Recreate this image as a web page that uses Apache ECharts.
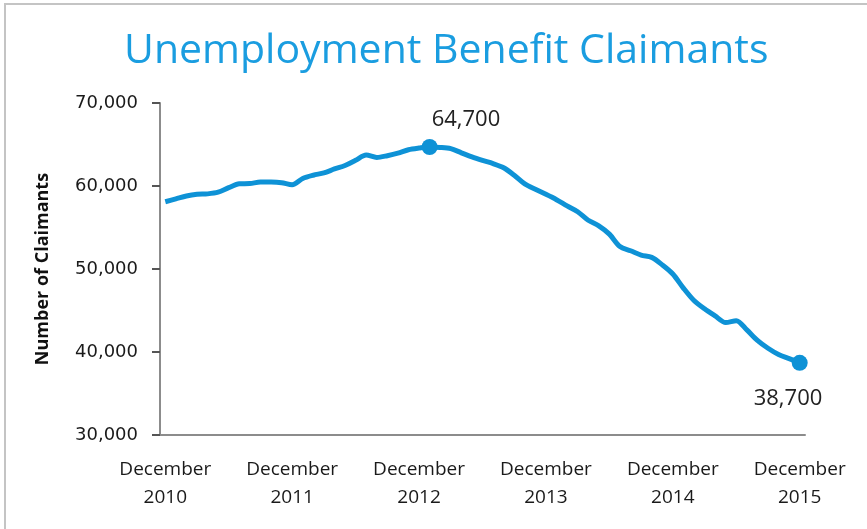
<!DOCTYPE html>
<html>
<head>
<meta charset="utf-8">
<title>Unemployment Benefit Claimants</title>
<script src="https://cdn.jsdelivr.net/npm/echarts@6/dist/echarts.min.js"></script>
<style>
  html, body { margin: 0; padding: 0; background: #fff; }
  #chart { width: 867px; height: 529px; }
</style>
</head>
<body>
<div id="chart"></div>
<script>
// months Dec 2010 .. Dec 2015
const monthNames = ['January', 'February', 'March', 'April', 'May', 'June', 'July',
  'August', 'September', 'October', 'November', 'December'];

// claimants
const claimants = [
  58100, 58450, 58800, 59000, 59050, 59250, 59800, 60270, 60300, 60470, 60470, 60400,
  60150, 60900, 61300, 61580, 62050, 62470, 63100, 63730, 63440, 63650, 63950, 64370,
  64570, 64700, 64650, 64500, 64000, 63500, 63080, 62700, 62200, 61300, 60250, 59600,
  59000, 58350, 57600, 56900, 55870, 55200, 54200, 52700, 52200, 51680, 51400, 50500,
  49400, 47700, 46200, 45200, 44350, 43550, 43780, 42660, 41400, 40450, 39700, 39200,
  38700
];

// points that carry a label
const peakIndex = 25;
const lastIndex = claimants.length - 1;

const yTicks = { min: 30000, max: 70000, interval: 10000 };

// build month categories
let months = [];
for (let i = 0; i < claimants.length; i++) {
  let m = (11 + i) % 12;
  let y = 2010 + Math.floor((11 + i) / 12);
  months.push(monthNames[m] + '\n' + y);
}

const blue = '#0e92d6';

let seriesData = claimants.map((v, i) => {
  if (i === peakIndex) {
    return {
      value: v,
      symbol: 'circle', symbolSize: 16,
      label: { show: true, position: [10, -30], fontSize: 22, color: '#222' }
    };
  }
  if (i === lastIndex) {
    return {
      value: v,
      symbol: 'circle', symbolSize: 16,
      label: { show: true, position: [-38, 33], fontSize: 22, color: '#222' }
    };
  }
  return { value: v, symbol: 'none' };
});

const chart = echarts.init(document.getElementById('chart'), null, { renderer: 'canvas' });

const option = {
  backgroundColor: '#fff',
  animation: false,
  title: {
    text: 'Unemployment Benefit Claimants',
    left: 119,
    top: 26,
    textStyle: {
      color: '#1a9de0',
      fontSize: 41,
      fontWeight: 'normal',
      fontFamily: '"Open Sans", "Noto Sans", sans-serif'
    }
  },
  grid: { left: 160, right: 62, top: 103, bottom: 94 },
  xAxis: {
    type: 'category',
    data: months,
    boundaryGap: true,
    axisLine: { lineStyle: { color: '#8c8c8c', width: 2 } },
    axisTick: { show: false },
    axisLabel: {
      interval: 11,
      color: '#1a1a1a',
      fontSize: 19,
      lineHeight: 28,
      margin: 21,
      fontFamily: '"Open Sans", sans-serif',
      formatter: (val) => val.indexOf('December') === 0 ? val : ''
    }
  },
  yAxis: {
    type: 'value',
    min: yTicks.min,
    max: yTicks.max,
    interval: yTicks.interval,
    name: 'Number of Claimants',
    nameLocation: 'middle',
    nameGap: 108,
    nameTextStyle: { fontSize: 18, fontWeight: 'bold', color: '#111', fontFamily: '"Open Sans", sans-serif' },
    axisLine: { show: true, lineStyle: { color: '#8c8c8c', width: 2 } },
    axisTick: { show: true, length: 8, lineStyle: { color: '#555', width: 2 } },
    splitLine: { show: false },
    axisLabel: {
      color: '#1a1a1a',
      fontSize: 18,
      margin: 22,
      fontFamily: '"DejaVu Sans", sans-serif',
      formatter: (v) => v.toLocaleString('en-US')
    }
  },
  series: [{
    type: 'line',
    data: seriesData,
    smooth: 0.3,
    showAllSymbol: true,
    lineStyle: { color: blue, width: 5 },
    itemStyle: { color: blue },
    label: {
      fontFamily: '"Open Sans", sans-serif',
      formatter: (p) => p.value.toLocaleString('en-US')
    }
  }],
  graphic: [{
    type: 'polyline',
    shape: { points: [[5, 600], [5, 4], [900, 4]] },
    style: { stroke: '#c4c4c4', lineWidth: 2, fill: null }
  }]
};

chart.setOption(option);
</script>
</body>
</html>
